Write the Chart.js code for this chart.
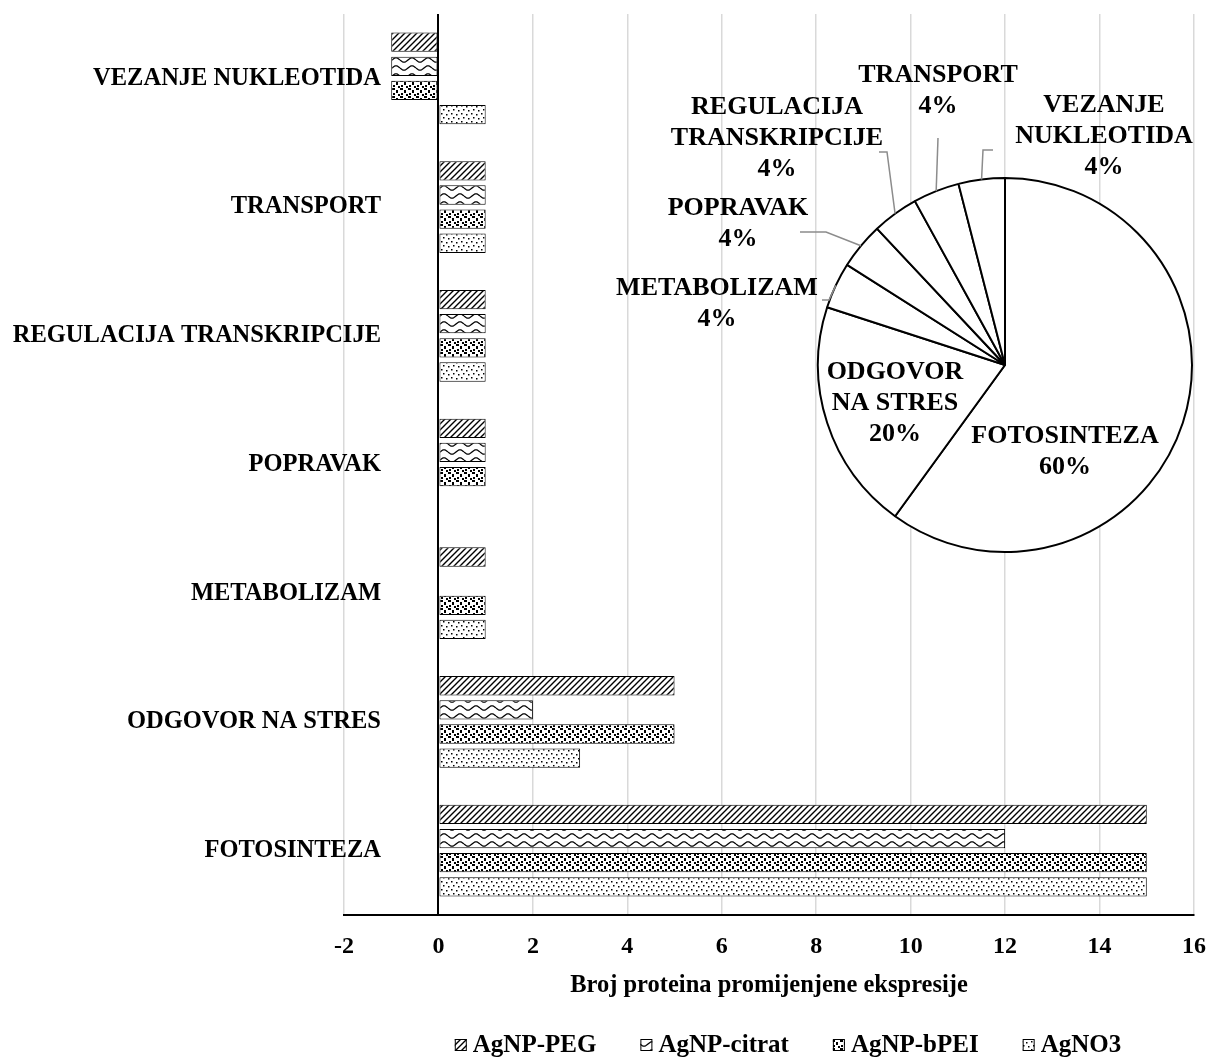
<!DOCTYPE html>
<html>
<head>
<meta charset="utf-8">
<script src="https://cdn.jsdelivr.net/npm/chart.js@4.4.0/dist/chart.umd.min.js"></script>
<style>
  body { margin: 0; background: #fff; }
  #wrap { position: relative; width: 1212px; height: 1059px; }
  #wrap canvas { position: absolute; left: 0; top: 0; }
</style>
</head>
<body>
<div id="wrap">
  <canvas id="bars" width="1212" height="1059"></canvas>
  <canvas id="pie" width="1212" height="1059"></canvas>
</div>
<script>
// categories, top to bottom
const categories = ['VEZANJE NUKLEOTIDA', 'TRANSPORT', 'REGULACIJA TRANSKRIPCIJE', 'POPRAVAK', 'METABOLIZAM', 'ODGOVOR NA STRES', 'FOTOSINTEZA'];
const agnpPeg    = [-1, 1, 1, 1, 1, 5, 15];
const agnpCitrat = [-1, 1, 1, 1, 0, 2, 12];
const agnpBpei   = [-1, 1, 1, 1, 1, 5, 15];
const agno3      = [ 1, 1, 1, 0, 1, 3, 15];
const seriesNames = ['AgNP-PEG', 'AgNP-citrat', 'AgNP-bPEI', 'AgNO3'];
const xTicks = [-2, 0, 2, 4, 6, 8, 10, 12, 14, 16];

// pie (udio po kategorijama)
const pieLabels = ['FOTOSINTEZA', 'ODGOVOR NA STRES', 'METABOLIZAM', 'POPRAVAK', 'REGULACIJA TRANSKRIPCIJE', 'TRANSPORT', 'VEZANJE NUKLEOTIDA'];
const pieValues = [60, 20, 4, 4, 4, 4, 4];
const pieLabelLines = [['FOTOSINTEZA'], ['ODGOVOR', 'NA STRES'], ['METABOLIZAM'], ['POPRAVAK'], ['REGULACIJA', 'TRANSKRIPCIJE'], ['TRANSPORT'], ['VEZANJE', 'NUKLEOTIDA']];

const FONT = "'Liberation Serif', 'Times New Roman', serif";

// label placement relative to pie centre (layout only)
const pieLabelLayout = [
    { dx: 60, dy: 87 },
    { dx: -110, dy: 38 },
    { dx: -288, dy: -61, elbow: [-176, -65], stub: -7 },
    { dx: -267, dy: -141, elbow: [-179, -133], stub: -26 },
    { dx: -228, dy: -227, elbow: [-118, -213], stub: -8 },
    { dx: -67, dy: -274, elbow: [-67, -227], stub: 0 },
    { dx: 99, dy: -229, elbow: [-22, -215], stub: 10 }
];

// fill patterns, black on white
function makePattern(kind) {
    const c = document.createElement('canvas');
    const g = c.getContext('2d');
    if (kind === 'hatch') {
        c.width = 6; c.height = 6;
        g.fillStyle = '#fff'; g.fillRect(0, 0, 6, 6);
        g.strokeStyle = '#000'; g.lineWidth = 1.4;
        g.beginPath();
        g.moveTo(-1, 7); g.lineTo(7, -1);
        g.moveTo(-4, 4); g.lineTo(4, -4);
        g.moveTo(2, 10); g.lineTo(10, 2);
        g.stroke();
    } else if (kind === 'wave') {
        c.width = 16; c.height = 8;
        g.fillStyle = '#fff'; g.fillRect(0, 0, 16, 8);
        g.strokeStyle = '#000'; g.lineWidth = 1.3;
        g.beginPath();
        for (let x = 0; x <= 16; x++) {
            const y = 4 + 2.2 * Math.sin(x / 16 * Math.PI * 2);
            if (x === 0) g.moveTo(x, y); else g.lineTo(x, y);
        }
        g.stroke();
    } else if (kind === 'bigdots') {
        c.width = 8; c.height = 8;
        g.fillStyle = '#fff'; g.fillRect(0, 0, 8, 8);
        g.fillStyle = '#000';
        g.fillRect(0, 0, 3, 2);
        g.fillRect(4, 2, 2, 3);
        g.fillRect(1, 5, 2, 2);
        g.fillRect(6, 6, 2, 2);
    } else {
        c.width = 10; c.height = 8;
        g.fillStyle = '#fff'; g.fillRect(0, 0, 10, 8);
        g.fillStyle = '#000';
        g.fillRect(1, 1, 1.5, 1.5);
        g.fillRect(6, 2, 1.5, 1.5);
        g.fillRect(3, 5, 1.5, 1.5);
        g.fillRect(8, 6, 1.5, 1.5);
    }
    return g.createPattern(c, 'repeat');
}

const patterns = [makePattern('hatch'), makePattern('wave'), makePattern('bigdots'), makePattern('smalldots')];
const seriesData = [agnpPeg, agnpCitrat, agnpBpei, agno3];

const datasets = seriesData.map((d, i) => ({
    label: seriesNames[i],
    data: d,
    backgroundColor: patterns[i],
    borderColor: '#000',
    borderWidth: 1,
    borderSkipped: false,
    categoryPercentage: 0.75,
    barPercentage: 0.8
}));

// legenda ispod grafa, centrirana ispod podrucja crtanja
const bottomLegend = {
    id: 'bottomLegend',
    afterDraw(chart) {
        const ctx = chart.ctx;
        const box = 12, gapText = 6, gapItem = 44;
        ctx.save();
        ctx.font = 'bold 25px ' + FONT;
        ctx.textBaseline = 'middle';
        const items = chart.data.datasets.map(ds => ({ ds, w: ctx.measureText(ds.label).width }));
        const total = items.reduce((s, it) => s + box + gapText + it.w, 0) + gapItem * (items.length - 1);
        let x = 788 - total / 2;
        const y = 1045;
        items.forEach(it => {
            ctx.fillStyle = it.ds.backgroundColor;
            ctx.fillRect(x, y - box / 2, box, box);
            ctx.strokeStyle = '#000';
            ctx.lineWidth = 1;
            ctx.strokeRect(x + 0.5, y - box / 2 + 0.5, box - 1, box - 1);
            ctx.fillStyle = '#000';
            ctx.fillText(it.ds.label, x + box + gapText, y + 1);
            x += box + gapText + it.w + gapItem;
        });
        ctx.restore();
    }
};

new Chart(document.getElementById('bars'), {
    type: 'bar',
    data: { labels: categories, datasets: datasets },
    options: {
        indexAxis: 'y',
        responsive: false,
        animation: false,
        devicePixelRatio: 1,
        layout: { padding: { top: 14, right: 18, left: 0, bottom: 0 } },
        plugins: {
            tooltip: { enabled: false },
            legend: { display: false }
        },
        scales: {
            x: {
                min: -2,
                max: 16,
                afterBuildTicks: (s) => { s.ticks = xTicks.map(v => ({ value: v })); },
                afterFit: (s) => { s.height = 144; },
                grid: {
                    drawTicks: true,
                    tickLength: 17,
                    tickColor: 'rgba(0,0,0,0)',
                    color: (c) => c.tick && c.tick.value === 0 ? '#000' : '#d9d9d9',
                    lineWidth: (c) => c.tick && c.tick.value === 0 ? 2 : 1.5
                },
                border: { display: true, color: '#000', width: 2 },
                ticks: {
                    padding: 0,
                    color: '#000',
                    font: { family: FONT, size: 24, weight: 'bold' }
                },
                title: {
                    display: true,
                    text: 'Broj proteina promijenjene ekspresije',
                    color: '#000',
                    padding: { top: 0, bottom: 59 },
                    font: { family: FONT, size: 24.5, weight: 'bold' }
                }
            },
            y: {
                afterFit: (s) => {
                    s.width = 344;
                    // natpisi kategorija prelaze u podrucje crtanja, kao u originalu
                    s._computeLabelArea = () => null;
                },
                grid: { display: false, drawTicks: false },
                border: { display: false },
                ticks: {
                    padding: -37,
                    color: '#000',
                    font: { family: FONT, size: 24.5, weight: 'bold' }
                }
            }
        }
    },
    plugins: [bottomLegend]
});

const pieLabelPlugin = {
    id: 'pieLabels',
    afterDatasetsDraw(chart) {
        const ctx = chart.ctx;
        const arcs = chart.getDatasetMeta(0).data;
        ctx.save();
        ctx.font = 'bold 26px ' + FONT;
        ctx.textAlign = 'center';
        ctx.textBaseline = 'middle';
        arcs.forEach((arc, i) => {
            const lay = pieLabelLayout[i];
            const cx = arc.x, cy = arc.y;
            if (lay.elbow) {
                const mid = (arc.startAngle + arc.endAngle) / 2;
                const ex = cx + Math.cos(mid) * arc.outerRadius;
                const ey = cy + Math.sin(mid) * arc.outerRadius;
                const bx = cx + lay.elbow[0], by = cy + lay.elbow[1];
                ctx.strokeStyle = '#8c8c8c';
                ctx.lineWidth = 1.5;
                ctx.beginPath();
                ctx.moveTo(bx + lay.stub, by);
                ctx.lineTo(bx, by);
                ctx.lineTo(ex, ey);
                ctx.stroke();
            }
            const lines = pieLabelLines[i].concat([pieValues[i] + '%']);
            const lh = 31;
            const top = cy + lay.dy - (lines.length - 1) * lh / 2;
            ctx.fillStyle = '#000';
            lines.forEach((t, k) => ctx.fillText(t, cx + lay.dx, top + k * lh));
        });
        ctx.restore();
    }
};

new Chart(document.getElementById('pie'), {
    type: 'pie',
    data: {
        labels: pieLabels,
        datasets: [{
            data: pieValues,
            backgroundColor: '#fff',
            borderColor: '#000',
            borderWidth: 2
        }]
    },
    options: {
        responsive: false,
        animation: false,
        devicePixelRatio: 1,
        events: [],
        layout: { padding: { left: 817, right: 19, top: 177, bottom: 506 } },
        plugins: { legend: { display: false }, tooltip: { enabled: false } }
    },
    plugins: [pieLabelPlugin]
});
</script>
</body>
</html>
